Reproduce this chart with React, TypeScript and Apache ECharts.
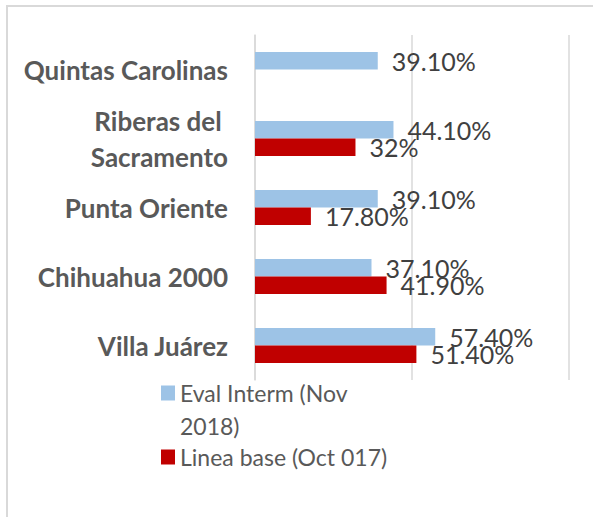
import React, { useEffect, useRef } from "react";
import * as echarts from "echarts";

const categories = [
  "Quintas Carolinas",
  "Riberas del \nSacramento",
  "Punta Oriente",
  "Chihuahua 2000",
  "Villa Juárez",
];
const seriesNames = ["Eval Interm (Nov 2018)", "Linea base (Oct 017)"];
const evalInterm: (number | null)[] = [39.1, 44.1, 39.1, 37.1, 57.4];
const lineaBase: (number | null)[] = [null, 32, 17.8, 41.9, 51.4];
const colors = ["#9DC3E6", "#C00000"];

const fmt = (v: number) =>
  Number.isInteger(v) ? `${v}%` : `${v.toFixed(2)}%`;

export default function App() {
  const ref = useRef<HTMLDivElement>(null);
  useEffect(() => {
    if (!ref.current) return;
    const chart = echarts.init(ref.current, undefined, { renderer: "svg" });
    const font = "Lato, 'Open Sans', sans-serif";
    const label = {
      show: true,
      position: "right" as const,
      distance: 14,
      color: "#404040",
      fontFamily: font,
      fontSize: 25,
      formatter: (p: any) => fmt(p.value),
    };
    chart.setOption({
      animation: false,
      backgroundColor: "#ffffff",
      textStyle: { fontFamily: font },
      graphic: [
        {
          type: "rect",
          silent: true,
          shape: { x: 7, y: 6, width: 1000, height: 1000 },
          style: { fill: "none", stroke: "#d9d9d9", lineWidth: 2 },
        },
      ],
      grid: { left: 255, right: 24, top: 35, bottom: 137 },
      xAxis: {
        type: "value",
        min: 0,
        max: 100,
        interval: 50,
        axisLabel: { show: false },
        axisTick: { show: false },
        axisLine: { show: false },
        splitLine: { show: true, lineStyle: { color: "#d9d9d9", width: 1.5 } },
      },
      yAxis: {
        type: "category",
        inverse: true,
        data: categories,
        axisTick: { show: false },
        axisLine: { show: true, lineStyle: { color: "#d9d9d9", width: 1.5 } },
        axisLabel: {
          margin: 27,
          color: "#595959",
          fontWeight: "bold",
          fontSize: 26,
          lineHeight: 36,
          fontFamily: font,
        },
      },
      legend: [
        {
          data: [seriesNames[0]],
          left: 161,
          top: 343.5,
          padding: 0,
          itemWidth: 14,
          itemHeight: 15,
          icon: "rect",
          selectedMode: false,
          formatter: () => "\nEval Interm (Nov\n2018)",
          textStyle: {
            color: "#595959",
            fontSize: 23,
            lineHeight: 33,
            fontFamily: font,
          },
        },
        {
          data: [seriesNames[1]],
          left: 161,
          top: 440.5,
          padding: 0,
          itemWidth: 14,
          itemHeight: 15,
          icon: "rect",
          selectedMode: false,
          textStyle: {
            color: "#595959",
            fontSize: 23,
            lineHeight: 33,
            fontFamily: font,
          },
        },
      ],
      series: [
        {
          name: seriesNames[0],
          type: "bar",
          data: evalInterm,
          barWidth: 17.5,
          barGap: "0%",
          itemStyle: { color: colors[0] },
          label,
        },
        {
          name: seriesNames[1],
          type: "bar",
          data: lineaBase,
          barWidth: 17.5,
          barGap: "0%",
          itemStyle: { color: colors[1] },
          label,
        },
      ],
    });
    return () => chart.dispose();
  }, []);
  return (
    <div
      ref={ref}
      style={{ position: "absolute", left: 0, top: 0, width: 593, height: 517 }}
    />
  );
}
